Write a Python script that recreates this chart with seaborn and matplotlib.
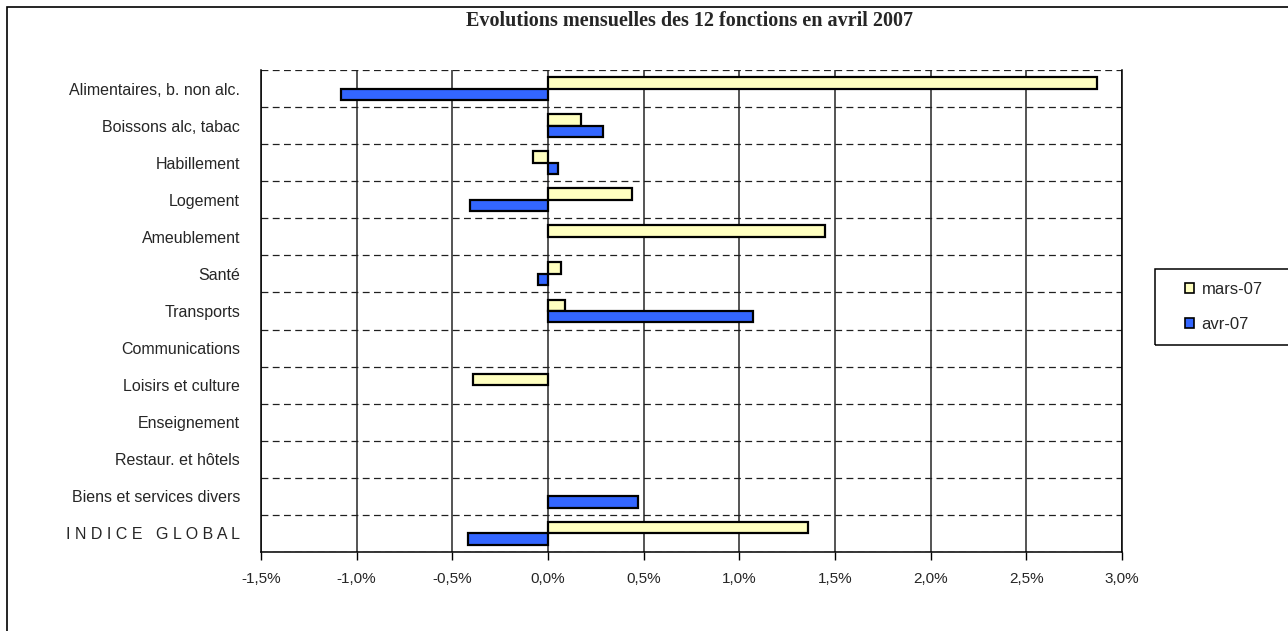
import numpy as np
import pandas as pd
import matplotlib
matplotlib.use("Agg")
import matplotlib.pyplot as plt
from matplotlib.patches import Rectangle
import seaborn as sns

categories = [
    "Alimentaires, b. non alc.",
    "Boissons alc, tabac",
    "Habillement",
    "Logement",
    "Ameublement",
    "Santé",
    "Transports",
    "Communications",
    "Loisirs et culture",
    "Enseignement",
    "Restaur. et hôtels",
    "Biens et services divers",
    "I N D I C E   G L O B A L",
]
series_names = ["mars-07", "avr-07"]
mars_07 = [2.87, 0.17, -0.08, 0.44, 1.45, 0.07, 0.09, 0.0, -0.39, 0.0, 0.0, 0.0, 1.36]
avr_07 = [-1.08, 0.29, 0.05, -0.41, 0.0, -0.05, 1.07, 0.0, 0.0, 0.0, 0.0, 0.47, -0.42]
x_ticks = [-1.5, -1.0, -0.5, 0.0, 0.5, 1.0, 1.5, 2.0, 2.5, 3.0]
title = "Evolutions mensuelles des 12 fonctions en avril 2007"

df = pd.DataFrame({
    "cat": categories * 2,
    "val": mars_07 + avr_07,
    "serie": [series_names[0]] * len(categories) + [series_names[1]] * len(categories),
})

sns.set_style("white")
plt.rcParams["font.family"] = ["Liberation Sans", "DejaVu Sans"]

fig = plt.figure(figsize=(12.88, 6.31), dpi=100)
ax = fig.add_axes([261 / 1288, 1 - 552 / 631, (1122 - 261) / 1288, (552 - 70) / 631])

sns.barplot(data=df, y="cat", x="val", hue="serie", orient="h",
            palette=["#FFFFC0", "#3366FF"], edgecolor="black", linewidth=1.6,
            width=0.62, ax=ax, legend=True, saturation=1)

for p in ax.patches:
    if abs(p.get_width()) < 1e-9:
        p.set_linewidth(0)

ax.set_xlim(-1.5, 3.0)
ax.set_ylim(len(categories) - 0.5, -0.5)
ax.set_xticks(x_ticks)
ax.set_xticklabels([("%.1f%%" % t).replace(".", ",") for t in x_ticks], fontsize=11)
ax.set_yticks(range(len(categories)))
ax.set_yticklabels(categories, fontsize=11.5)
ax.set_yticks(np.arange(len(categories) + 1) - 0.5, minor=True)
ax.set_xlabel("")
ax.set_ylabel("")

ax.grid(True, axis="x", which="major", color="#262626", linewidth=1.1, linestyle="-")
ax.grid(True, axis="y", which="minor", color="#202020", linewidth=0.9, linestyle=(0, (5.5, 3.5)))
ax.grid(False, axis="y", which="major")
ax.set_axisbelow(True)

ax.tick_params(axis="x", which="major", direction="out", length=5.5, width=1, color="black", pad=9, bottom=True)
ax.tick_params(axis="y", which="both", length=0, pad=15)

for s in ["left", "bottom", "right"]:
    ax.spines[s].set_visible(True)
    ax.spines[s].set_color("black")
    ax.spines[s].set_linewidth(1.1)
ax.spines["top"].set_visible(False)

handles, labels = ax.get_legend_handles_labels()
ax.get_legend().remove()
for h in handles:
    h.set_edgecolor("black")
    h.set_linewidth(1.2)
leg = fig.legend(handles, labels, loc="center left", bbox_to_anchor=(1185 / 1288, 1 - 307 / 631),
                 frameon=False, fontsize=12,
                 handlelength=0.55, handleheight=0.55, handletextpad=0.45, labelspacing=1.2,
                 borderpad=0, borderaxespad=0)

# legend frame (chart-area decoration)
fig.patches.append(Rectangle((1155 / 1288, 1 - 345 / 631), 0.2, 76 / 631, transform=fig.transFigure,
                             fill=False, edgecolor="black", linewidth=1.1, zorder=5))

fig.text(690 / 1288, 1 - 21 / 631, title, ha="center", va="center", fontsize=14.5,
         fontweight="bold", family=["Liberation Serif", "DejaVu Serif"])

fig.patches.append(Rectangle((7 / 1288, -0.05), 1.2, 1.05 - 7 / 631, transform=fig.transFigure,
                             fill=False, edgecolor="black", linewidth=1.2, zorder=10))

fig.savefig("out.png", dpi=100)
